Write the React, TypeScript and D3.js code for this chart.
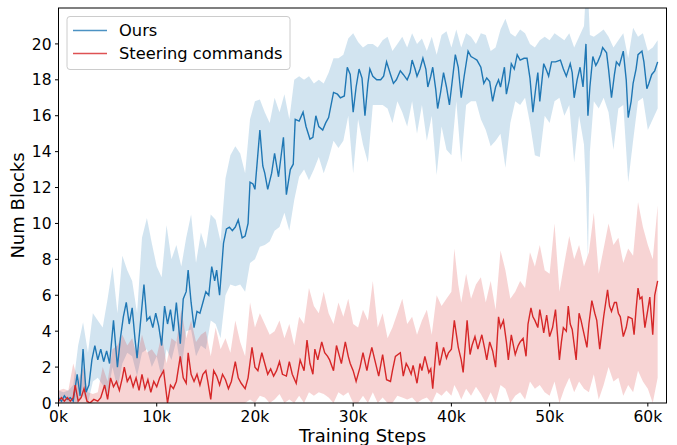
import * as d3 from "d3";

// mean curves, [training step (k), num blocks]
const oursMean: [number, number][] = [
  [0, 0.3], [0.3, 0.1], [0.6, 0.4], [0.9, 0.2], [1.2, 0.3], [1.5, 0.1], [1.9, 1.6], [2.2, 0.4], [2.5, 3.0], [2.8, 0.6],
  [3.1, 1.0], [3.4, 2.4], [3.7, 3.2], [4.0, 2.4], [4.3, 3.0], [4.6, 2.3], [4.9, 2.9], [5.2, 2.2], [5.6, 4.6], [6.0, 2.0],
  [6.3, 3.6], [6.6, 4.8], [6.9, 5.6], [7.2, 4.4], [7.5, 5.3], [7.8, 3.5], [8.0, 2.5], [8.3, 4.2], [8.7, 6.6], [9.0, 4.6],
  [9.3, 4.8], [9.6, 4.2], [9.9, 5.0], [10.2, 4.3], [10.5, 3.2], [10.8, 5.4], [11.1, 4.4], [11.4, 5.2], [11.7, 4.0], [12.0, 5.6],
  [12.4, 3.3], [12.7, 5.8], [13.0, 6.2], [13.2, 7.4], [13.5, 5.6], [13.8, 4.2], [14.1, 5.1], [14.4, 5.0], [14.7, 5.6], [15.0, 6.2],
  [15.3, 6.0], [15.6, 7.6], [15.9, 6.8], [16.1, 7.4], [16.4, 6.0], [16.8, 8.9], [17.1, 9.7], [17.4, 9.8], [17.7, 9.6], [18.0, 9.8],
  [18.3, 10.2], [18.7, 9.2], [19.0, 9.3], [19.3, 10.0], [19.5, 12.3], [19.8, 12.2], [20.0, 11.9], [20.5, 15.2], [20.8, 13.2], [21.0, 12.8],
  [21.3, 11.9], [21.7, 12.8], [22.0, 13.9], [22.4, 12.6], [22.9, 14.8], [23.2, 11.6], [23.6, 13.0], [23.9, 13.3], [24.1, 15.8], [24.5, 15.7],
  [24.9, 16.2], [25.2, 15.4], [25.6, 14.7], [25.9, 14.8], [26.2, 16.0], [26.5, 15.4], [26.9, 15.2], [27.2, 15.6], [27.5, 15.9], [28.0, 17.3],
  [28.4, 17.2], [28.7, 17.0], [29.1, 17.1], [29.4, 18.7], [29.7, 18.3], [30.0, 16.2], [30.3, 17.6], [30.6, 18.6], [30.9, 18.1], [31.2, 16.0],
  [31.5, 17.8], [31.7, 18.6], [32.0, 18.2], [32.4, 18.0], [32.8, 18.0], [33.1, 18.2], [33.4, 19.0], [33.8, 18.3], [34.1, 17.8], [34.4, 18.0],
  [34.8, 18.5], [35.1, 18.3], [35.5, 18.0], [35.8, 18.4], [36.0, 19.1], [36.3, 18.6], [36.5, 18.2], [36.8, 18.6], [37.1, 19.2], [37.4, 18.6],
  [37.6, 17.6], [37.9, 18.2], [38.1, 18.7], [38.4, 17.5], [38.6, 16.4], [38.9, 17.3], [39.2, 18.4], [39.5, 17.6], [39.8, 16.6], [40.1, 18.0],
  [40.4, 19.4], [40.7, 18.7], [41.0, 17.0], [41.3, 18.2], [41.7, 19.6], [42.0, 19.3], [42.3, 19.2], [42.6, 19.1], [43.0, 18.7], [43.3, 17.8],
  [43.6, 18.1], [43.9, 17.9], [44.2, 16.8], [44.5, 17.6], [44.8, 18.0], [45.0, 17.6], [45.4, 18.7], [45.6, 17.2], [45.9, 18.0], [46.1, 18.9],
  [46.4, 18.6], [46.7, 19.4], [47.0, 19.1], [47.4, 19.2], [47.7, 19.2], [48.0, 18.1], [48.3, 16.2], [48.6, 17.6], [48.8, 18.4], [49.0, 16.8],
  [49.4, 18.9], [49.7, 18.5], [49.9, 18.2], [50.2, 19.0], [50.6, 19.0], [51.1, 19.1], [51.4, 18.6], [51.7, 18.2], [52.1, 18.9], [52.3, 18.4],
  [52.5, 17.0], [52.8, 18.0], [53.1, 18.7], [53.4, 17.6], [53.7, 20.0], [53.9, 16.0], [54.1, 17.6], [54.4, 19.3], [54.7, 18.8], [54.9, 19.0],
  [55.2, 19.4], [55.4, 19.8], [55.8, 19.5], [56.0, 18.6], [56.3, 17.0], [56.6, 18.3], [56.8, 19.0], [57.1, 18.8], [57.5, 19.6], [57.8, 18.0],
  [58.0, 15.9], [58.3, 16.8], [58.5, 17.8], [58.8, 18.6], [59.0, 19.4], [59.4, 19.6], [59.6, 19.0], [59.9, 17.5], [60.1, 17.8], [60.4, 18.3],
  [60.7, 18.5], [61.0, 19.0],
];

const steeringMean: [number, number][] = [
  [0, 0.1], [0.3, 0.3], [0.6, 0.1], [0.9, 0.3], [1.2, 0.1], [1.5, 0.3], [1.7, 1.0], [2.0, 0.1], [2.3, 0.3], [2.6, 0.8],
  [2.9, 0.1], [3.2, 0], [3.6, 0.2], [4.0, 0.1], [4.3, 0.3], [4.7, 1.0], [5.0, 0.2], [5.3, 1.4], [5.6, 0.9], [5.9, 1.2],
  [6.2, 0.7], [6.5, 1.4], [6.7, 2.0], [7.0, 1.2], [7.3, 1.5], [7.6, 0.9], [7.9, 1.4], [8.2, 0.7], [8.5, 1.6], [8.8, 0.8],
  [9.1, 1.3], [9.4, 0.6], [9.7, 1.2], [10.0, 0.9], [10.3, 1.4], [10.7, 1.8], [11.1, 0], [11.4, 1.0], [11.7, 0.8], [12.0, 1.2],
  [12.4, 2.6], [12.7, 1.4], [13.0, 1.1], [13.2, 2.8], [13.5, 1.6], [13.8, 1.2], [14.1, 1.6], [14.4, 1.0], [14.7, 1.6], [15.0, 1.8],
  [15.2, 1.2], [15.5, 0.2], [15.8, 1.8], [16.1, 1.5], [16.4, 1.0], [16.7, 1.6], [17.0, 1.3], [17.3, 0.8], [17.6, 1.2], [18.0, 2.3],
  [18.3, 1.4], [18.6, 1.1], [19.0, 0.8], [19.3, 1.4], [19.7, 3.1], [20.0, 2.0], [20.3, 1.8], [20.7, 2.8], [21.0, 2.2], [21.3, 1.6],
  [21.6, 1.9], [21.9, 1.5], [22.2, 1.8], [22.5, 2.3], [22.8, 1.6], [23.2, 1.5], [23.5, 2.3], [23.8, 1.6], [24.2, 1.1], [24.6, 2.4],
  [25.0, 1.8], [25.3, 3.5], [25.6, 2.2], [25.9, 1.6], [26.1, 3.0], [26.4, 2.4], [26.8, 3.4], [27.1, 2.8], [27.4, 2.6], [27.6, 2.4],
  [28.0, 1.8], [28.3, 3.2], [28.6, 2.6], [28.8, 2.2], [29.2, 3.4], [29.5, 2.6], [29.7, 2.2], [30.0, 1.8], [30.3, 1.2], [30.7, 2.0],
  [31.0, 2.8], [31.4, 1.8], [31.6, 2.4], [31.9, 3.1], [32.2, 2.4], [32.6, 1.5], [33.0, 2.7], [33.2, 2.0], [33.4, 1.3], [33.8, 1.2],
  [34.0, 1.8], [34.3, 2.6], [34.8, 2.8], [35.1, 1.5], [35.4, 2.2], [35.6, 2.0], [35.9, 1.6], [36.1, 2.1], [36.5, 1.1], [36.8, 2.2],
  [37.0, 1.8], [37.3, 2.6], [37.7, 1.7], [37.9, 1.9], [38.1, 0.8], [38.5, 3.4], [38.8, 2.1], [39.0, 2.6], [39.2, 3.1], [39.5, 2.5],
  [39.7, 2.8], [40.0, 3.0], [40.3, 4.6], [40.7, 3.1], [41.0, 2.4], [41.2, 1.7], [41.6, 4.6], [41.9, 2.7], [42.1, 3.2], [42.4, 3.7],
  [42.7, 3.0], [43.1, 3.8], [43.4, 3.0], [43.6, 2.4], [43.9, 3.4], [44.2, 2.9], [44.5, 2.0], [44.8, 4.8], [45.0, 4.2], [45.3, 4.6],
  [45.6, 3.4], [45.8, 2.4], [46.1, 3.8], [46.5, 2.7], [46.8, 3.2], [47.0, 3.4], [47.3, 3.6], [47.6, 2.6], [47.8, 4.4], [48.1, 5.3],
  [48.3, 4.8], [48.5, 4.6], [48.8, 4.2], [49.0, 5.2], [49.2, 4.6], [49.4, 3.9], [49.7, 4.9], [50.0, 3.7], [50.3, 4.2], [50.6, 5.2],
  [51.0, 2.4], [51.2, 3.4], [51.4, 4.2], [51.7, 4.0], [51.9, 5.4], [52.1, 4.4], [52.3, 4.1], [52.7, 2.4], [53.0, 5.0], [53.2, 4.6],
  [53.4, 4.1], [53.8, 3.1], [54.0, 4.4], [54.3, 5.7], [54.6, 5.0], [54.8, 4.6], [55.1, 3.0], [55.5, 4.8], [55.9, 6.3], [56.1, 5.4],
  [56.3, 5.1], [56.6, 5.6], [56.8, 5.6], [57.0, 5.0], [57.2, 4.8], [57.5, 3.7], [57.8, 4.2], [58.0, 4.8], [58.4, 4.7], [58.6, 3.8],
  [58.8, 5.2], [59.0, 6.4], [59.2, 5.8], [59.4, 5.9], [59.7, 4.2], [60.0, 5.2], [60.2, 5.9], [60.5, 3.8], [60.7, 6.0], [61.0, 6.8],
];

// shaded spread, [training step (k), low, high]
const oursBand: [number, number, number][] = [
  [0, 0, 0.7], [0.5, 0, 0.6], [1.0, 0, 0.7], [1.5, 0, 1.0], [2.0, 0, 3.2], [2.5, 0.4, 4.5], [3.0, 0, 2.8], [3.5, 1.2, 5.0],
  [4.0, 1.4, 4.6], [4.5, 1.0, 4.2], [5.0, 0.5, 5.8], [5.5, 2.0, 7.6], [6.0, 0.8, 5.0], [6.5, 2.2, 8.2], [7.0, 2.8, 7.4], [7.5, 2.6, 6.8],
  [8.0, 1.5, 5.0], [8.5, 2.8, 9.2], [9.0, 3.0, 10.3], [9.5, 2.0, 8.9], [10.0, 2.6, 7.6], [10.5, 1.4, 7.0], [11.0, 3.0, 9.9], [11.5, 2.4, 8.0],
  [12.0, 3.5, 8.8], [12.5, 1.8, 7.6], [13.0, 4.0, 9.2], [13.5, 4.1, 10.5], [14.0, 2.6, 7.8], [14.5, 3.2, 9.5], [15.0, 3.0, 8.6], [15.5, 4.6, 10.5],
  [16.0, 4.4, 10.2], [16.5, 3.6, 9.0], [17.0, 6.0, 12.5], [17.5, 6.6, 13.8], [18.0, 6.5, 14.3], [18.5, 6.6, 13.9], [19.0, 6.2, 12.8], [19.5, 7.8, 15.8],
  [20.0, 8.0, 16.8], [20.5, 8.7, 16.9], [21.0, 8.8, 16.2], [21.5, 9.0, 15.6], [22.0, 9.6, 17.0], [22.5, 9.8, 16.2], [23.0, 10.6, 17.2], [23.5, 9.6, 15.8],
  [24.0, 11.3, 18.0], [24.5, 12.6, 18.2], [25.0, 13.0, 18.0], [25.5, 12.4, 18.2], [26.0, 13.0, 17.8], [26.5, 13.7, 18.0], [27.0, 12.8, 17.8], [27.5, 13.6, 18.4],
  [28.0, 14.6, 19.2], [28.5, 14.2, 19.2], [29.0, 14.6, 19.4], [29.5, 16.0, 20.3], [30.0, 12.8, 20.6], [30.5, 15.8, 20.1], [31.0, 14.4, 19.8], [31.5, 13.4, 20.0],
  [32.0, 16.6, 20.0], [32.5, 16.6, 19.8], [33.0, 16.6, 20.2], [33.5, 16.4, 20.4], [34.0, 15.6, 19.6], [34.5, 16.8, 20.0], [35.0, 16.2, 20.4], [35.5, 15.4, 19.8],
  [36.0, 16.8, 20.6], [36.5, 15.0, 20.0], [37.0, 16.6, 20.3], [37.5, 14.6, 19.6], [38.0, 16.0, 20.4], [38.5, 12.7, 19.4], [39.0, 15.4, 20.5], [39.5, 14.1, 20.7],
  [40.0, 13.8, 19.8], [40.5, 16.8, 20.8], [41.0, 13.4, 19.8], [41.5, 16.6, 20.6], [42.0, 16.8, 20.4], [42.5, 16.8, 20.0], [43.0, 15.8, 20.6], [43.5, 15.2, 20.5],
  [44.0, 14.3, 19.6], [44.5, 14.6, 19.8], [45.0, 15.0, 20.8], [45.5, 13.1, 21.4], [46.0, 15.6, 20.6], [46.5, 16.8, 20.4], [47.0, 16.6, 20.8], [47.5, 17.0, 20.6],
  [48.0, 15.6, 20.0], [48.5, 13.8, 19.8], [49.0, 13.7, 20.2], [49.5, 16.0, 20.4], [50.0, 15.6, 20.2], [50.5, 16.8, 20.6], [51.0, 17.0, 20.4], [51.5, 16.0, 20.2],
  [52.0, 16.6, 20.6], [52.5, 13.4, 19.8], [53.0, 16.0, 20.4], [53.5, 14.4, 21.0], [53.7, 12.0, 23.0], [53.9, 8.0, 23.0], [54.1, 14.0, 20.5], [54.5, 16.8, 20.4],
  [55.0, 16.4, 20.6], [55.5, 17.0, 20.8], [56.0, 16.2, 20.4], [56.5, 14.1, 19.8], [57.0, 16.4, 20.2], [57.5, 16.6, 20.6], [58.0, 12.3, 19.2], [58.5, 14.6, 20.9],
  [59.0, 16.8, 20.4], [59.5, 17.0, 20.6], [60.0, 15.2, 19.6], [60.5, 15.8, 19.8], [61.0, 16.4, 20.2],
];

const steeringBand: [number, number, number][] = [
  [0, 0, 0.7], [0.5, 0, 0.8], [1.0, 0, 0.7], [1.5, 0, 2.2], [2.0, 0, 1.2], [2.5, 0, 2.0], [3.0, 0, 0.6], [3.5, 0, 0.5],
  [4.0, 0, 0.6], [4.5, 0, 2.0], [5.0, 0, 1.2], [5.5, 0, 3.0], [6.0, 0, 3.2], [6.5, 0, 3.8], [7.0, 0, 3.2], [7.5, 0, 3.6],
  [8.0, 0, 2.6], [8.5, 0, 3.8], [9.0, 0, 2.8], [9.5, 0, 3.0], [10.0, 0, 2.6], [10.5, 0, 3.8], [11.0, 0, 2.2], [11.5, 0, 3.6],
  [12.0, 0, 3.4], [12.5, 0, 5.2], [13.0, 0, 3.6], [13.5, 0, 4.6], [14.0, 0, 3.4], [14.5, 0, 3.8], [15.0, 0, 4.0], [15.5, 0, 2.6],
  [16.0, 0, 4.2], [16.5, 0, 3.0], [17.0, 0, 3.6], [17.5, 0, 2.8], [18.0, 0, 4.6], [18.5, 0, 3.4], [19.0, 0, 2.6], [19.5, 0.2, 5.6],
  [20.0, 0, 4.2], [20.5, 0.4, 5.0], [21.0, 0.3, 4.4], [21.5, 0, 3.8], [22.0, 0.2, 4.0], [22.5, 0.5, 4.6], [23.0, 0, 3.6], [23.5, 0.2, 4.4],
  [24.0, 0, 3.2], [24.5, 0.4, 4.8], [25.0, 0, 4.4], [25.5, 0.6, 6.4], [26.0, 0.4, 5.4], [26.5, 0.6, 5.0], [27.0, 0.5, 6.2], [27.5, 0.3, 5.0],
  [28.0, 0, 4.4], [28.5, 0.6, 5.6], [29.0, 0.4, 4.8], [29.5, 0.6, 5.8], [30.0, 0, 4.4], [30.5, 0, 4.2], [31.0, 0.4, 5.2], [31.5, 0, 4.6],
  [32.0, 0.6, 6.8], [32.5, 0, 4.2], [33.0, 0.3, 5.0], [33.5, 0, 3.6], [34.0, 0, 4.2], [34.5, 0.4, 5.0], [35.0, 0.3, 5.8], [35.5, 0.2, 4.4],
  [36.0, 0.3, 4.8], [36.5, 0, 3.8], [37.0, 0.2, 4.6], [37.5, 0.3, 5.2], [38.0, 0, 3.8], [38.5, 0.6, 6.0], [39.0, 0.4, 5.4], [39.5, 0.7, 5.8],
  [40.0, 0.4, 6.2], [40.3, 1.0, 8.6], [40.7, 0.6, 6.6], [41.0, 0.2, 5.6], [41.5, 0.8, 7.2], [42.0, 0.4, 5.8], [42.5, 0.9, 6.6], [43.0, 0.5, 7.0],
  [43.5, 0, 5.6], [44.0, 0.6, 6.8], [44.5, 0, 5.2], [45.0, 1.0, 8.5], [45.5, 0.8, 7.4], [46.0, 0, 5.8], [46.5, 0.4, 6.2], [47.0, 0.6, 6.8],
  [47.5, 0.2, 6.4], [48.0, 1.2, 8.4], [48.5, 0.8, 7.6], [49.0, 1.0, 8.8], [49.5, 0.6, 7.4], [50.0, 0.4, 7.2], [50.5, 1.2, 10.0], [51.0, 0, 6.2],
  [51.5, 0.8, 7.8], [52.0, 1.4, 9.3], [52.5, 0.6, 8.0], [53.0, 1.2, 8.8], [53.5, 0.8, 7.6], [54.0, 0.6, 8.4], [54.5, 1.6, 10.6], [55.0, 0.2, 7.2],
  [55.5, 1.0, 8.6], [56.0, 2.0, 10.0], [56.5, 1.2, 8.8], [57.0, 1.4, 9.2], [57.5, 0.4, 7.8], [58.0, 1.0, 8.6], [58.5, 0.6, 8.2], [59.0, 1.8, 11.2],
  [59.5, 1.2, 9.8], [60.0, 0.8, 8.8], [60.5, 0, 8.0], [61.0, 1.4, 11.0],
];

const xTicks = [0, 10, 20, 30, 40, 50, 60];
const yTicks = [0, 2, 4, 6, 8, 10, 12, 14, 16, 18, 20];
const seriesNames = ["Ours", "Steering commands"];

const W = 677;
const H = 445;
const m = { left: 58.5, right: 10.5, top: 8, bottom: 42 };
const FONT = "DejaVu Sans, sans-serif";
const BLUE = "#1f77b4";
const RED = "#d62728";

export default function App() {
  const x = d3.scaleLinear().domain([0, 61.9]).range([m.left, W - m.right]);
  const y = d3.scaleLinear().domain([0, 22]).range([H - m.bottom, m.top]);

  const line = d3
    .line<[number, number]>()
    .x((d) => x(d[0]))
    .y((d) => y(d[1]));
  const band = d3
    .area<[number, number, number]>()
    .x((d) => x(d[0]))
    .y0((d) => y(d[1]))
    .y1((d) => y(d[2]));

  const x0 = m.left;
  const x1 = W - m.right;
  const y0 = H - m.bottom;
  const y1 = m.top;

  return (
    <svg
      width={W}
      height={H}
      style={{ position: "absolute", left: 0, top: 0, background: "white" }}
      fontFamily={FONT}
    >
      <defs>
        <clipPath id="plot">
          <rect x={x0} y={y1} width={x1 - x0} height={y0 - y1} />
        </clipPath>
      </defs>

      <g clipPath="url(#plot)">
        <path d={band(oursBand) ?? ""} fill={BLUE} fillOpacity={0.2} />
        <path d={band(steeringBand) ?? ""} fill={RED} fillOpacity={0.2} />
        <path d={line(oursMean) ?? ""} fill="none" stroke={BLUE} strokeWidth={1.4} />
        <path d={line(steeringMean) ?? ""} fill="none" stroke={RED} strokeWidth={1.4} />
      </g>

      {/* frame */}
      <rect x={x0} y={y1} width={x1 - x0} height={y0 - y1} fill="none" stroke="black" strokeWidth={1} />

      {/* x axis */}
      {xTicks.map((t) => (
        <g key={t} transform={`translate(${x(t)},${y0})`}>
          <line y2={3.5} stroke="black" />
          <text y={19} textAnchor="middle" fontSize={15.5} fill="black">
            {t}k
          </text>
        </g>
      ))}
      <text x={(x0 + x1) / 2} y={442} textAnchor="middle" fontSize={18} fill="black">
        Training Steps
      </text>

      {/* y axis */}
      {yTicks.map((t) => (
        <g key={t} transform={`translate(${x0},${y(t)})`}>
          <line x2={-3.5} stroke="black" />
          <text x={-7} dy="0.36em" textAnchor="end" fontSize={15.5} fill="black">
            {t}
          </text>
        </g>
      ))}
      <text
        transform={`translate(24,${(y0 + y1) / 2}) rotate(-90)`}
        textAnchor="middle"
        fontSize={18}
        fill="black"
      >
        Num Blocks
      </text>

      {/* legend */}
      <rect x={67} y={16.5} width={223} height={53} rx={3} fill="white" fillOpacity={0.8} stroke="#cccccc" />
      {seriesNames.map((name, i) => (
        <g key={name} transform={`translate(73,${30.5 + i * 23})`}>
          <line x2={34} stroke={i === 0 ? BLUE : RED} strokeWidth={1.4} strokeOpacity={0.8} />
          <text x={46} dy="0.36em" fontSize={16.3} fill="black">
            {name}
          </text>
        </g>
      ))}
    </svg>
  );
}
